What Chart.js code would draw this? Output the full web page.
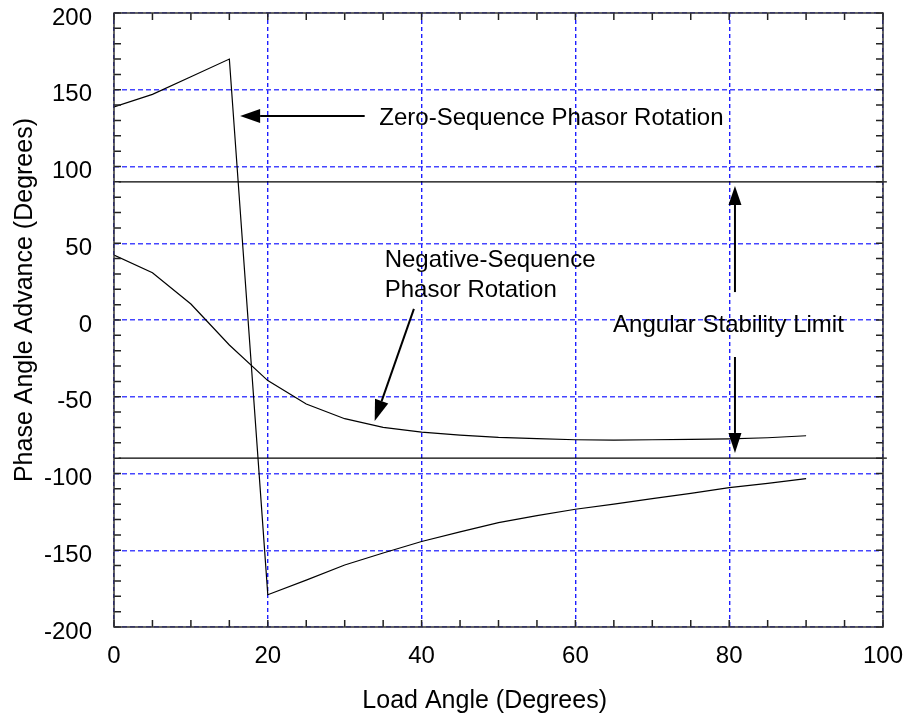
<!doctype html>
<html lang="en">
<head>
  <meta charset="utf-8">
  <title>Phase Angle Advance</title>
  <style>
    body { margin: 0; background: #fff; }
    canvas { display: block; }
  </style>
</head>
<body>
  <canvas id="chart" width="907" height="719"></canvas>
  <script src="https://cdn.jsdelivr.net/npm/chart.js"></script>
  <script>
    // values
    const loadAngle = [0, 5, 10, 15, 20, 25, 30, 35, 40, 45, 50, 55, 60, 65, 70, 75, 80, 85, 90];
    const zeroSeq = [138.8, 147, 158.5, 170, -179, -169.5, -159.6, -151.8, -144.3, -138, -132, -127.5, -123.3, -120, -116.4, -113, -109.2, -106.4, -103.4];
    const negSeq = [42.3, 30.8, 10.4, -16.3, -39.5, -54.7, -64.3, -69.9, -73, -75, -76.5, -77.3, -78, -78.2, -78, -77.8, -77.5, -76.7, -75.4];
    const limitX = [0.6, 100.5];
    const upperLimit = 90;
    const lowerLimit = -90;
    const xTicks = [0, 20, 40, 60, 80, 100];
    const yTicks = [-200, -150, -100, -50, 0, 50, 100, 150, 200];

    const FONT = '"Liberation Sans", Arial, Helvetica, sans-serif';

    function toPoints(xs, ys) {
      return xs.map((x, i) => ({ x: x, y: ys[i] }));
    }

    function arrow(ctx, x1, y1, x2, y2, len, half) {
      const a = Math.atan2(y2 - y1, x2 - x1);
      const c = Math.cos(a), s = Math.sin(a);
      ctx.beginPath();
      ctx.moveTo(x1, y1);
      ctx.lineTo(x2 - c * len, y2 - s * len);
      ctx.stroke();
      ctx.beginPath();
      ctx.moveTo(x2, y2);
      ctx.lineTo(x2 - c * len - s * half, y2 - s * len + c * half);
      ctx.lineTo(x2 - c * len + s * half, y2 - s * len - c * half);
      ctx.closePath();
      ctx.fill();
    }

    // no automatic label padding, the layout padding decides the plot box
    function noPad(s) {
      s.paddingTop = 0; s.paddingBottom = 0; s.paddingLeft = 0; s.paddingRight = 0;
    }

    // frame, inward minor ticks, arrows, labels
    const extras = {
      id: 'extras',
      afterDatasetsDraw(chart) {
        const { ctx, chartArea: a, scales: { x, y } } = chart;
        const X = v => x.getPixelForValue(v);
        const Y = v => y.getPixelForValue(v);
        ctx.save();

        ctx.strokeStyle = '#222';
        ctx.lineWidth = 1.5;
        ctx.beginPath();
        for (let v = 0; v <= 100; v += 5) {
          const px = X(v);
          ctx.moveTo(px, a.bottom); ctx.lineTo(px, a.bottom - 7);
          ctx.moveTo(px, a.top); ctx.lineTo(px, a.top + 7);
        }
        for (let v = -200; v <= 200; v += 10) {
          const py = Y(v);
          ctx.moveTo(a.left, py); ctx.lineTo(a.left + 7, py);
          ctx.moveTo(a.right, py); ctx.lineTo(a.right - 7, py);
        }
        ctx.stroke();
        ctx.lineWidth = 1.5;
        ctx.strokeStyle = '#333';
        ctx.strokeRect(a.left, a.top, a.right - a.left, a.bottom - a.top);

        // arrows
        ctx.strokeStyle = '#000';
        ctx.fillStyle = '#000';
        ctx.lineWidth = 2;
        arrow(ctx, X(32.6), Y(132.9), X(16.4), Y(132.9), 20, 7);
        arrow(ctx, X(39.0), Y(7.2), X(33.9), Y(-65.8), 21, 7);
        arrow(ctx, X(80.75), Y(18.2), X(80.75), Y(87.3), 19, 6.5);
        arrow(ctx, X(80.75), Y(-24.1), X(80.75), Y(-86.6), 20, 6.5);

        // annotation text
        ctx.font = '24px ' + FONT;
        ctx.textBaseline = 'alphabetic';
        ctx.textAlign = 'left';
        ctx.fillText('Zero-Sequence Phasor Rotation', X(34.5), Y(127));
        ctx.fillText('Negative-Sequence', X(35.2), Y(34.7));
        ctx.fillText('Phasor Rotation', X(35.2), Y(15.2));
        ctx.fillText('Angular Stability Limit', X(64.9), Y(-7.6));

        // axis titles
        ctx.font = '25px ' + FONT;
        ctx.textAlign = 'center';
        ctx.fillText('Load Angle (Degrees)', X(48.2), a.bottom + 81);
        ctx.translate(32, Y(13));
        ctx.rotate(-Math.PI / 2);
        ctx.fillText('Phase Angle Advance (Degrees)', 0, 0);
        ctx.restore();
      }
    };

    const lineStyle = { borderColor: '#000', borderWidth: 1.2, pointRadius: 0, tension: 0, fill: false };

    new Chart(document.getElementById('chart'), {
      type: 'line',
      data: {
        datasets: [
          Object.assign({ label: 'Zero-Sequence', data: toPoints(loadAngle, zeroSeq) }, lineStyle),
          Object.assign({ label: 'Negative-Sequence', data: toPoints(loadAngle, negSeq) }, lineStyle),
          Object.assign({ label: 'Upper limit', data: toPoints(limitX, [upperLimit, upperLimit]), clip: false }, lineStyle),
          Object.assign({ label: 'Lower limit', data: toPoints(limitX, [lowerLimit, lowerLimit]), clip: false }, lineStyle)
        ]
      },
      options: {
        responsive: false,
        animation: false,
        devicePixelRatio: 1,
        layout: { padding: { top: 13, right: 24, left: 0, bottom: 0 } },
        plugins: { legend: { display: false }, tooltip: { enabled: false } },
        scales: {
          x: {
            type: 'linear',
            min: 0,
            max: 100,
            afterBuildTicks: s => { s.ticks = xTicks.map(v => ({ value: v })); },
            afterFit: s => { s.height = 92; noPad(s); },
            ticks: { color: '#000', padding: 17, font: { family: FONT, size: 24, lineHeight: 1 } },
            grid: { color: 'rgb(30, 30, 255)', lineWidth: 1.4, drawTicks: false },
            border: { display: false, dash: [4, 3] }
          },
          y: {
            type: 'linear',
            min: -200,
            max: 200,
            afterBuildTicks: s => { s.ticks = yTicks.map(v => ({ value: v })); },
            afterFit: s => { s.width = 114; noPad(s); },
            ticks: { color: '#000', padding: 22, labelOffset: 5, font: { family: FONT, size: 24, lineHeight: 1 } },
            grid: { color: 'rgb(70, 70, 255)', lineWidth: 1.4, drawTicks: false },
            border: { display: false, dash: [5, 3] }
          }
        }
      },
      plugins: [extras]
    });
  </script>
</body>
</html>
